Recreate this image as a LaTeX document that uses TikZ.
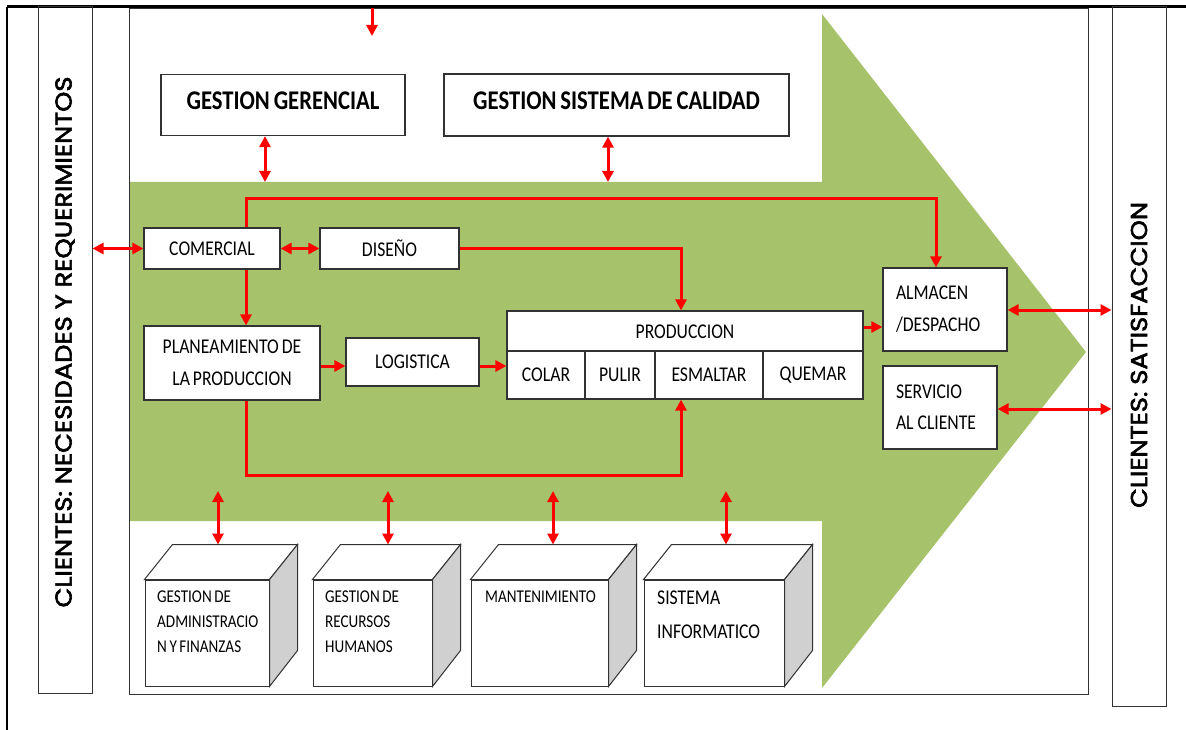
\documentclass[tikz,border=0pt]{standalone}
\usepackage{fontspec}
\usetikzlibrary{arrows.meta,calc}
\newfontfamily\calib[FakeStretch=0.84,WordSpace=0.75]{Carlito}
\newfontfamily\sidefont[FakeStretch=1.12,FakeBold=2.6]{Poppins}
\definecolor{arrowgreen}{RGB}{166,194,106}
\definecolor{boxline}{RGB}{50,50,50}
\definecolor{sidegray}{RGB}{208,208,208}
\definecolor{conred}{RGB}{255,0,0}
\newcommand\cubefaces[1]{%
  \draw[frame, fill=white] (#1.north west) -- ++(28,-35) -- ($(#1.north east)+(28,-35)$) -- (#1.north east) -- cycle;
  \draw[frame, fill=sidegray] (#1.north east) -- ++(28,-35) -- ++(0,106) -- (#1.south east) -- cycle;}
\newcommand\liftup[1]{\raisebox{4pt}[\height][0pt]{#1}}
\begin{document}
\begin{tikzpicture}[x=1pt,y=-1pt,
 box/.style={draw=boxline, line width=1.2pt, fill=white, inner sep=0pt, text=black,
   font=\calib\fontsize{21}{26}\selectfont},
 bigbox/.style={box, font=\calib\bfseries\fontsize{27}{32}\selectfont},
 conn/.style={draw=conred, line width=3pt, -{Triangle[length=11pt,width=11pt]}},
 dconn/.style={conn, {Triangle[length=11pt,width=11pt]}-{Triangle[length=11pt,width=11pt]}},
 frame/.style={draw=boxline, line width=1pt},
 sidelabel/.style={rotate=90, inner sep=0pt, font=\sidefont\fontsize{23}{28}\selectfont},
 cubetxt/.style={anchor=north west, inner sep=0pt, align=left, font=\calib\fontsize{18}{25}\selectfont},
 plain/.style={inner sep=0pt, text=black, font=\calib\fontsize{21}{26}\selectfont},
]
\useasboundingbox (0,0) rectangle (1186,730);
% outer lines
\draw[line width=3pt] (7,7) -- (1186,7);
\draw[line width=1.5pt] (7,7) -- (7,730);
% main frame
\draw[frame, fill=white] (129,9) rectangle (1088,694);
% green arrow
\fill[arrowgreen] (130,182) -- (822,182) -- (822,14) -- (1086,352) -- (822,688) -- (822,521) -- (130,521) -- cycle;
% side boxes
\node[draw=boxline, line width=1pt, minimum width=54pt, minimum height=686pt, inner sep=0pt] (lbox) at (65,350) {};
\node[draw=boxline, line width=1pt, minimum width=54pt, minimum height=699pt, inner sep=0pt] (rbox) at (1139,356.5) {};
\node[sidelabel] at (65,342) {CLIENTES: NECESIDADES Y REQUERIMIENTOS};
\node[sidelabel] at (1139,355) {CLIENTES: SATISFACCION};
% top boxes
\node[bigbox, minimum width=244pt, minimum height=61pt] (gg) at (283,105) {\liftup{GESTION GERENCIAL}};
\node[bigbox, minimum width=345pt, minimum height=62pt] (gsc) at (616.5,105) {\liftup{GESTION SISTEMA DE CALIDAD}};
% process boxes
\node[box, minimum width=136pt, minimum height=41pt] (com) at (212,248.5) {COMERCIAL};
\node[box, minimum width=139pt, minimum height=41pt] (dis) at (389.5,248.5) {DISEÑO};
\node[box, minimum width=176pt, minimum height=74pt, align=center, font=\calib\fontsize{21}{32}\selectfont] (pla) at (232,363) {PLANEAMIENTO DE\\LA PRODUCCION};
\node[box, minimum width=133pt, minimum height=48pt] (log) at (412.5,362) {LOGISTICA};
\node[box, minimum width=356pt, minimum height=88pt] (prod) at (685,355) {};
\node[plain] (prodt) at (685,332) {PRODUCCION};
\node[box, minimum width=78pt, minimum height=48pt] (colar) at (546,375) {COLAR};
\node[box, minimum width=70pt, minimum height=48pt] (pulir) at (620,375) {PULIR};
\node[box, minimum width=108pt, minimum height=48pt] (esm) at (709,375) {ESMALTAR};
\node[box, minimum width=100pt, minimum height=48pt] (que) at (813,375) {QUEMAR};
\node[box, minimum width=124pt, minimum height=83pt, inner xsep=13pt, text width=98pt, align=left, font=\calib\fontsize{21}{32}\selectfont] (alm) at (945,309.5) {ALMACEN\\/DESPACHO};
\node[box, minimum width=114pt, minimum height=83pt, inner xsep=13pt, text width=88pt, align=left, font=\calib\fontsize{21}{31}\selectfont] (serv) at (940,407.5) {SERVICIO\\AL\kern-3pt{} CLIENTE};
% cubes
\node[frame, fill=white, minimum width=124pt, minimum height=106pt, inner sep=0pt] (c1) at (207,633) {};
\node[frame, fill=white, minimum width=119pt, minimum height=106pt, inner sep=0pt] (c2) at (372.5,633) {};
\node[frame, fill=white, minimum width=137pt, minimum height=106pt, inner sep=0pt] (c3) at (539.5,633) {};
\node[frame, fill=white, minimum width=140pt, minimum height=106pt, inner sep=0pt] (c4) at (714,633) {};
\cubefaces{c1}\cubefaces{c2}\cubefaces{c3}\cubefaces{c4}
\node[cubetxt] at (157,591) {GESTION DE\\ADMINISTRACIO\\N Y FINANZAS};
\node[cubetxt] at (325,591) {GESTION DE\\RECURSOS\\HUMANOS};
\node[cubetxt] at (485,591) {MANTENIMIENTO};
\node[cubetxt, font=\calib\fontsize{21}{34}\selectfont] at (657,591) {SISTEMA\\INFORMATICO};
% coordinates
\coordinate (xa) at (246,199);
\coordinate (xb) at (936,199);
\coordinate (xc) at (681,249);
\coordinate (yd) at (246,475);
\coordinate (ylog) at (0,366);
\coordinate (ypa) at (0,327);
\coordinate (yalm) at (0,310);
\coordinate (yserv) at (0,409);
\coordinate (g1) at (265,182);
\coordinate (g2) at (608,182);
\coordinate (t0) at (372,8);
\coordinate (t1) at (372,36);
\coordinate (b1) at (218,491);
\coordinate (b2) at (388,491);
\coordinate (b3) at (553,491);
\coordinate (b4) at (726,491);
% connectors
\draw[conn] (t0) -- (t1);
\draw[dconn] (gg.south -| g1) -- (g1);
\draw[dconn] (gsc.south -| g2) -- (g2);
\draw[dconn] (lbox.east |- com) -- (com.west);
\draw[dconn] (com.east) -- (dis.west);
\draw[conn] (com.north -| xa) -- (xa) -- (xb) -- (alm.north -| xb);
\draw[conn] (dis.east) -- (dis.east -| xc) -- (prod.north -| xc);
\draw[conn] (com.south -| xa) -- (pla.north -| xa);
\draw[conn] (pla.east |- ylog) -- (log.west |- ylog);
\draw[conn] (log.east |- ylog) -- (prod.west |- ylog);
\draw[conn] (pla.south -| xa) -- (yd) -| (prod.south -| xc);
\draw[conn] (prod.east |- ypa) -- (alm.west |- ypa);
\draw[dconn] (alm.east |- yalm) -- (rbox.west |- yalm);
\draw[dconn] (serv.east |- yserv) -- (rbox.west |- yserv);
\draw[dconn] (b1) -- ($(c1.north -| b1)+(0,-35)$);
\draw[dconn] (b2) -- ($(c2.north -| b2)+(0,-35)$);
\draw[dconn] (b3) -- ($(c3.north -| b3)+(0,-35)$);
\draw[dconn] (b4) -- ($(c4.north -| b4)+(0,-35)$);
\end{tikzpicture}
\end{document}
